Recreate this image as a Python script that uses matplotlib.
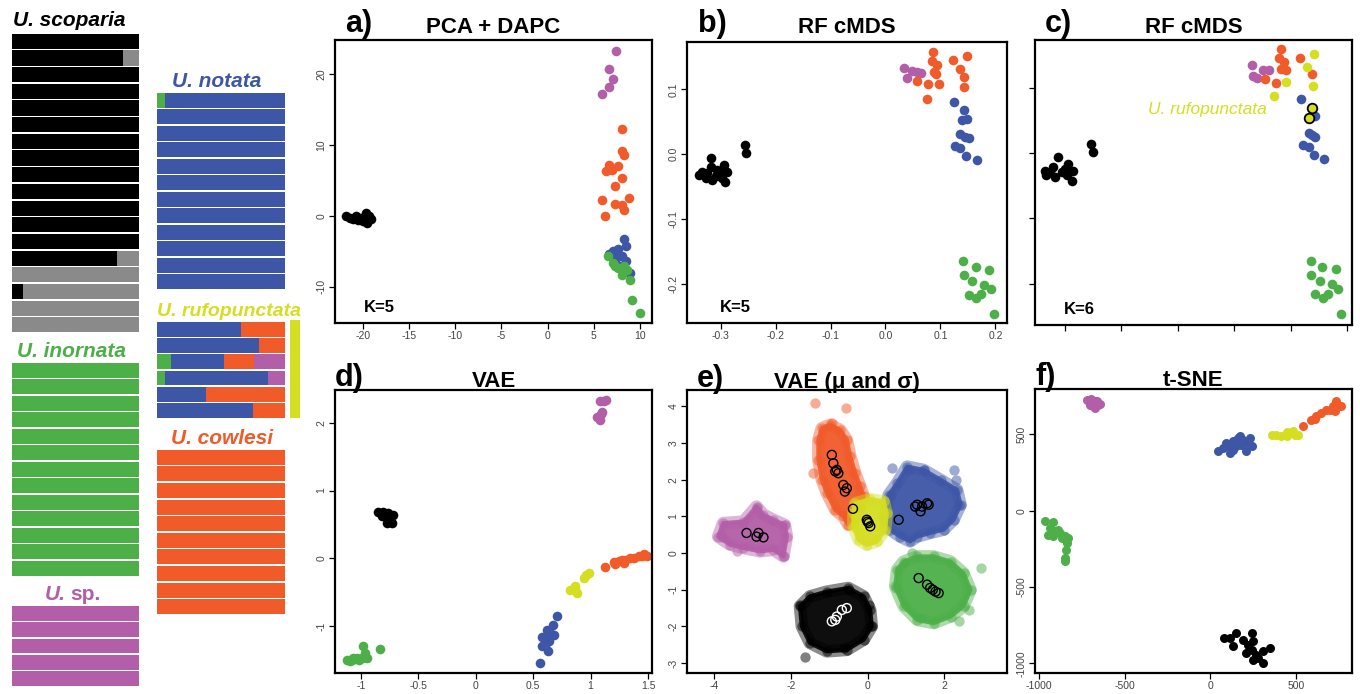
import matplotlib
matplotlib.use("Agg")
import matplotlib.pyplot as plt

plt.rcParams['font.family'] = ['Liberation Sans', 'DejaVu Sans']
plt.rcParams['axes.unicode_minus'] = False  # R style hyphen minus

# === colours ===
BLACK = '#000000'
GRAY = '#8a8a8a'
BLUE = '#3d56a6'
GREEN = '#4caf48'
ORANGE = '#f15a29'
PINK = '#b35ea8'
YELLOW = '#d5de21'

# === admixture bars (fractions per individual) ===
scoparia_black = [1, 0.875, 1, 1, 1, 1, 1, 1, 1, 1, 1, 1, 1, 0.83, 0, 0.086, 0, 0]
notata_green = [0.06, 0, 0, 0, 0, 0, 0, 0, 0, 0, 0, 0]
rufo_green = [0, 0, 0.107, 0.06, 0, 0]
rufo_blue = [0.66, 0.80, 0.415, 0.81, 0.386, 0.752]
rufo_orange = [0.34, 0.20, 0.235, 0, 0.614, 0.248]
rufo_pink = [0, 0, 0.243, 0.13, 0, 0]
n_inornata = 13
n_sp = 5
n_cowlesi = 10

# === a) PCA + DAPC ===
a_black_x = [-21.8, -21.1, -20.2, -19.6, -19.1, -19.5, -20.7, -21.4, -20.0, -19.3, -20.5, -19.8]
a_black_y = [-0.05, -0.5, -0.3, 0.4, -0.5, -1.0, 0.0, -0.3, -0.7, 0.0, -0.6, -0.2]
a_pink_x = [7.4, 6.7, 7.1, 6.7, 5.9]
a_pink_y = [23.3, 20.7, 19.3, 18.2, 17.2]
a_orange_x = [8.0, 8.0, 8.3, 6.7, 7.6, 6.3, 7.0, 8.0, 7.3, 5.9, 8.8, 7.3, 8.0, 8.3, 6.2]
a_orange_y = [12.2, 9.1, 8.6, 7.2, 7.0, 6.3, 6.5, 5.4, 4.2, 2.2, 2.5, 1.7, 1.5, 0.9, 0.0]
a_blue_x = [8.3, 8.5, 7.1, 7.6, 8.0, 7.4, 8.5, 6.7, 8.9, 7.8]
a_blue_y = [-3.3, -4.3, -5.0, -4.6, -5.7, -5.9, -6.4, -5.4, -8.0, -7.1]
a_green_x = [6.5, 7.1, 7.6, 8.3, 8.6, 8.9, 9.1, 10.0, 8.1, 7.3]
a_green_y = [-5.6, -6.6, -7.3, -7.1, -7.6, -9.0, -11.8, -13.7, -8.3, -7.1]

# === b) RF cMDS, K=5 ===
b_black_x = [-0.333, -0.318, -0.318, -0.294, -0.288, -0.291, -0.327, -0.339, -0.309, -0.300,
             -0.324, -0.306, -0.315, -0.297, -0.256, -0.253]
b_black_y = [-0.027, -0.019, -0.006, -0.016, -0.028, -0.042, -0.037, -0.032, -0.034, -0.029,
             -0.029, -0.024, -0.040, -0.036, 0.014, 0.002]
b_pink_x = [0.033, 0.039, 0.058, 0.065, 0.048]
b_pink_y = [0.133, 0.117, 0.127, 0.126, 0.128]
b_orange_x = [0.087, 0.084, 0.094, 0.088, 0.058, 0.078, 0.097, 0.075, 0.122, 0.148, 0.136,
              0.143, 0.143, 0.091]
b_orange_y = [0.157, 0.144, 0.137, 0.127, 0.113, 0.108, 0.108, 0.085, 0.145, 0.151, 0.131,
              0.119, 0.103, 0.124]
b_blue_x = [0.124, 0.142, 0.139, 0.148, 0.136, 0.145, 0.152, 0.127, 0.136, 0.147, 0.167]
b_blue_y = [0.081, 0.068, 0.053, 0.055, 0.031, 0.027, 0.025, 0.013, 0.010, -0.003, -0.009]
b_green_x = [0.141, 0.142, 0.164, 0.158, 0.188, 0.179, 0.192, 0.151, 0.164, 0.173, 0.198]
b_green_y = [-0.164, -0.186, -0.174, -0.196, -0.178, -0.201, -0.208, -0.217, -0.221, -0.216, -0.246]

# === c) RF cMDS, K=6 ===
c_black_x = [-0.327, -0.312, -0.333, -0.318, -0.294, -0.285, -0.288, -0.306, -0.300, -0.321,
             -0.336, -0.297, -0.254, -0.250]
c_black_y = [-0.029, -0.006, -0.034, -0.037, -0.016, -0.027, -0.042, -0.029, -0.024, -0.022,
             -0.027, -0.034, 0.014, 0.002]
c_pink_x = [0.031, 0.033, 0.052, 0.061, 0.040]
c_pink_y = [0.134, 0.118, 0.127, 0.127, 0.115]
c_orange_x = [0.083, 0.079, 0.088, 0.092, 0.083, 0.055, 0.075, 0.117, 0.138]
c_orange_y = [0.159, 0.145, 0.139, 0.127, 0.129, 0.113, 0.107, 0.146, 0.121]
c_yellow_x = [0.142, 0.130, 0.139, 0.092, 0.071]
c_yellow_y = [0.152, 0.132, 0.103, 0.108, 0.087]
c_yellow_ring_x = [0.138, 0.132]
c_yellow_ring_y = [0.069, 0.054]
c_blue_x = [0.119, 0.144, 0.132, 0.144, 0.123, 0.132, 0.141, 0.159, 0.138]
c_blue_y = [0.082, 0.057, 0.030, 0.025, 0.013, 0.010, -0.003, -0.009, 0.027]
c_green_x = [0.136, 0.137, 0.156, 0.153, 0.181, 0.173, 0.185, 0.144, 0.157, 0.167, 0.189]
c_green_y = [-0.165, -0.186, -0.174, -0.196, -0.177, -0.201, -0.208, -0.216, -0.221, -0.216, -0.246]

# === d) VAE ===
d_pink_x = [1.084, 1.119, 1.10, 1.08, 1.06, 1.09, 1.13]
d_pink_y = [2.32, 2.32, 2.16, 2.04, 2.08, 2.13, 2.33]
d_black_x = [-0.849, -0.805, -0.762, -0.718, -0.747, -0.776, -0.733, -0.82, -0.791, -0.77]
d_black_y = [0.691, 0.691, 0.667, 0.642, 0.569, 0.529, 0.520, 0.618, 0.642, 0.593]
d_orange_x = [1.128, 1.20, 1.244, 1.273, 1.302, 1.346, 1.375, 1.419, 1.462, 1.49, 1.448, 1.288, 1.215]
d_orange_y = [-0.132, -0.059, -0.044, -0.029, -0.020, 0.005, 0.005, 0.039, 0.069, 0.039, 0.03, -0.06, -0.08]
d_yellow_x = [0.962, 0.99, 0.94, 0.823, 0.866, 0.881, 0.861]
d_yellow_y = [-0.24, -0.216, -0.29, -0.471, -0.436, -0.51, -0.41]
d_blue_x = [0.706, 0.669, 0.648, 0.677, 0.576, 0.62, 0.605, 0.576, 0.625, 0.561, 0.634, 0.62]
d_blue_y = [-0.853, -0.975, -1.10, -1.12, -1.15, -1.196, -1.294, -1.294, -1.368, -1.539, -1.22, -1.05]
d_green_x = [-1.125, -1.081, -1.038, -0.994, -0.965, -0.98, -0.95, -0.834, -1.02, -1.07, -1.096]
d_green_y = [-1.50, -1.49, -1.466, -1.466, -1.39, -1.29, -1.466, -1.333, -1.49, -1.466, -1.515]

# === e) VAE (mu and sigma): cloud outlines, stray samples and means ===
e_orange_x = [-0.97, -0.71, -0.54, -0.45, -0.32, -0.19, -0.10, -0.19, -0.37, -0.50, -0.63, -0.84,
              -1.06, -1.19, -1.28, -1.28, -1.19]
e_orange_y = [3.5, 3.36, 3.09, 2.64, 2.18, 1.82, 1.55, 1.27, 0.91, 0.77, 1.0, 1.18, 1.64, 2.0,
              2.55, 3.09, 3.41]
e_orange_out_x = [-1.36, -0.55, -1.42, -0.92]
e_orange_out_y = [4.09, 3.95, 2.18, 3.55]
e_orange_mu_x = [-0.93, -0.89, -0.84, -0.76, -0.63, -0.54, -0.59, -0.38, -0.80]
e_orange_mu_y = [2.68, 2.45, 2.23, 2.18, 1.86, 1.77, 1.68, 1.21, 2.27]

e_yellow_x = [-0.32, 0.07, 0.42, 0.50, 0.46, 0.24, -0.02, -0.23, -0.37, -0.37]
e_yellow_y = [1.36, 1.47, 1.41, 1.09, 0.64, 0.32, 0.23, 0.36, 0.73, 1.09]
e_yellow_mu_x = [-0.02, 0.03, 0.07, 0.0]
e_yellow_mu_y = [0.91, 0.82, 0.73, 0.86]

e_blue_x = [1.03, 1.46, 1.90, 2.33, 2.42, 2.24, 1.98, 1.63, 1.29, 1.11, 0.85, 0.59, 0.46, 0.50,
            0.55, 0.77]
e_blue_y = [2.36, 2.27, 2.0, 1.73, 1.32, 0.91, 0.64, 0.55, 0.45, 0.32, 0.45, 0.64, 0.91, 1.27,
            1.59, 1.91]
e_blue_out_x = [0.64, 1.08, 1.47, 2.25, 2.30, 0.60, 2.38]
e_blue_out_y = [2.32, 2.27, 2.27, 2.27, 2.0, 1.55, 1.32]
e_blue_mu_x = [0.81, 1.29, 1.42, 1.55, 1.38, 1.24, 1.59]
e_blue_mu_y = [0.91, 1.32, 1.27, 1.36, 1.14, 1.27, 1.32]

e_pink_x = [-2.89, -3.23, -3.76, -3.89, -3.58, -3.23, -2.8, -2.45, -2.19, -2.10, -2.15, -2.45, -2.71]
e_pink_y = [1.27, 0.86, 0.82, 0.45, 0.23, 0.14, 0.05, 0.09, -0.09, 0.45, 0.77, 0.91, 1.05]
e_pink_out_x = [-2.88, -3.79, -2.18, -3.40, -2.18]
e_pink_out_y = [1.23, 0.45, 0.77, 0.05, -0.09]
e_pink_mu_x = [-3.15, -2.89, -2.71, -2.84]
e_pink_mu_y = [0.55, 0.45, 0.43, 0.55]

e_green_x = [1.29, 1.72, 2.16, 2.50, 2.68, 2.50, 2.16, 1.72, 1.29, 0.94, 0.72, 0.77, 0.94]
e_green_y = [-0.09, -0.09, -0.23, -0.55, -1.0, -1.45, -1.73, -1.91, -1.82, -1.45, -0.91, -0.45, -0.23]
e_green_out_x = [1.17, 2.95, 0.73, 1.38, 2.38, 2.64]
e_green_out_y = [0.0, -0.41, -0.95, -1.77, -1.86, -1.55]
e_green_mu_x = [1.33, 1.55, 1.63, 1.77, 1.85, 1.70]
e_green_mu_y = [-0.68, -0.86, -0.95, -1.05, -1.09, -1.0]

e_black_x = [-1.50, -1.06, -0.50, -0.10, 0.07, 0.11, -0.10, -0.54, -1.06, -1.50, -1.71, -1.76]
e_black_y = [-1.18, -1.05, -0.95, -1.18, -1.55, -2.0, -2.36, -2.64, -2.68, -2.45, -2.0, -1.45]
e_black_out_x = [-1.62, -1.75, -0.49, 0.03, 0.08, -0.62]
e_black_out_y = [-2.84, -1.41, -1.0, -1.41, -2.0, -2.59]
e_black_mu_x = [-0.93, -0.80, -0.67, -0.54, -0.84]
e_black_mu_y = [-1.86, -1.73, -1.55, -1.50, -1.82]

# === f) t-SNE ===
f_pink_x = [-720, -695, -675, -656, -675, -704, -665, -685, -646, -700]
f_pink_y = [727, 731, 716, 694, 672, 694, 716, 683, 700, 716]
f_green_x = [-967, -922, -938, -948, -909, -880, -850, -830, -840, -844, -850, -850, -890, -918, -870]
f_green_y = [-70, -76, -114, -157, -135, -146, -168, -179, -212, -255, -310, -332, -124, -168, -179]
f_blue_x = [45, 74, 113, 93, 132, 160, 191, 230, 240, 210, 152, 132, 181, 220, 109, 171]
f_blue_y = [393, 410, 378, 443, 454, 476, 465, 476, 421, 389, 421, 400, 432, 443, 421, 487]
f_yellow_x = [362, 385, 415, 447, 483, 512, 493, 447]
f_yellow_y = [493, 498, 487, 513, 520, 498, 498, 487]
f_orange_x = [541, 590, 619, 648, 677, 716, 735, 765, 726, 697, 609]
f_orange_y = [557, 596, 618, 640, 661, 683, 716, 683, 651, 661, 600]
f_black_x = [78, 113, 152, 132, 191, 240, 250, 220, 240, 269, 307, 346, 250, 307, 210, 279]
f_black_y = [-834, -834, -801, -888, -845, -801, -856, -877, -910, -943, -921, -899, -976, -998, -932, -965]


W, H = 1360, 694
fig = plt.figure(figsize=(W / 100, H / 100), dpi=100)


def px_axes(l, t, r, b):
    return fig.add_axes([l / W, 1 - b / H, (r - l) / W, (b - t) / H])


# === left: admixture barplots, drawn in pixel space ===
bx = fig.add_axes([0, 0, 300 / W, 1])
bx.set_xlim(0, 300)
bx.set_ylim(H, 0)
bx.axis('off')


def bar_block(left, width, top, pitch, rows):
    # rows: list of [(fraction, colour), ...]
    for i, segs in enumerate(rows):
        y = top + i * pitch + pitch / 2
        start = left
        for frac, col in segs:
            if frac <= 0:
                continue
            bx.barh(y, frac * width, left=start, height=pitch - 1.6, color=col, linewidth=0)
            start += frac * width


bar_block(12, 127, 33, 16.67, [[(b, BLACK), (1 - b, GRAY)] for b in scoparia_black])
bar_block(157, 128, 92, 16.5, [[(g, GREEN), (1 - g, BLUE)] for g in notata_green])
bar_block(157, 128, 321, 16.3, [[(g, GREEN), (bl, BLUE), (o, ORANGE), (p, PINK)]
                                for g, bl, o, p in zip(rufo_green, rufo_blue, rufo_orange, rufo_pink)])
bar_block(12, 127, 362, 16.5, [[(1, GREEN)]] * n_inornata)
bar_block(12, 127, 605, 16.4, [[(1, PINK)]] * n_sp)
bar_block(157, 128, 449, 16.6, [[(1, ORANGE)]] * n_cowlesi)
bx.add_patch(plt.Rectangle((290, 320), 13, 98, color=YELLOW, linewidth=0))

lab = dict(fontsize=15, fontweight='bold', fontstyle='italic', va='baseline')
bx.text(13, 26, 'U. scoparia', color=BLACK, **lab)
bx.text(172, 87, 'U. notata', color=BLUE, **lab)
bx.text(157, 316, 'U. rufopunctata', color=YELLOW, fontsize=14, fontweight='bold',
        fontstyle='italic', va='baseline')
bx.text(17, 357, 'U. inornata', color=GREEN, **lab)
bx.text(171, 444, 'U. cowlesi', color=ORANGE, **lab)
bx.text(45, 600, 'U.', color=PINK, **lab)
bx.text(70, 600, 'sp.', color=PINK, fontsize=15, fontweight='bold', va='baseline')


# === scatter panels ===
def style(ax, xlim, ylim, xticks, yticks, labels=True):
    ax.set_xlim(*xlim)
    ax.set_ylim(*ylim)
    ax.set_xticks(xticks)
    ax.set_yticks(yticks)
    for s in ax.spines.values():
        s.set_linewidth(1.6)
    ax.tick_params(length=4, width=0.9, labelsize=7.5, colors='black', labelcolor='#444444', pad=2)
    for t in ax.get_yticklabels():
        t.set_rotation(90)
        t.set_va('center')
    if not labels:
        ax.set_xticklabels([])
        ax.set_yticklabels([])


def title(ax_l, ax_r, letter_x, base_y, letter, name):
    fig.text(letter_x / W, 1 - base_y / H, letter, fontsize=22, fontweight='bold', va='baseline')
    fig.text((ax_l + ax_r) / 2 / W, 1 - (base_y + 1) / H, name, fontsize=16, fontweight='bold',
             ha='center', va='baseline')


S = 48

ax = px_axes(335, 40, 652, 323)
for xs, ys, c in [(a_black_x, a_black_y, BLACK), (a_pink_x, a_pink_y, PINK),
                  (a_orange_x, a_orange_y, ORANGE), (a_blue_x, a_blue_y, BLUE),
                  (a_green_x, a_green_y, GREEN)]:
    ax.scatter(xs, ys, s=S, color=c, linewidths=0)
style(ax, (-23.0, 11.3), (-15.1, 24.8), [-20, -15, -10, -5, 0, 5, 10], [-10, 0, 10, 20])
ax.text(0.14, 0.04, 'K=5', transform=ax.transAxes, fontsize=12, fontweight='bold', ha='center')
title(335, 652, 345, 32, 'a)', 'PCA + DAPC')

ax = px_axes(687, 42, 1007, 323)
for xs, ys, c in [(b_black_x, b_black_y, BLACK), (b_pink_x, b_pink_y, PINK),
                  (b_orange_x, b_orange_y, ORANGE), (b_blue_x, b_blue_y, BLUE),
                  (b_green_x, b_green_y, GREEN)]:
    ax.scatter(xs, ys, s=S, color=c, linewidths=0)
style(ax, (-0.361, 0.221), (-0.26, 0.173), [-0.3, -0.2, -0.1, 0.0, 0.1, 0.2], [-0.2, -0.1, 0.0, 0.1])
ax.set_xticklabels(['-0.3', '-0.2', '-0.1', '0.0', '0.1', '0.2'])
ax.set_yticklabels(['-0.2', '-0.1', '0.0', '0.1'])
for t in ax.get_yticklabels():
    t.set_rotation(90)
    t.set_va('center')
ax.text(0.15, 0.04, 'K=5', transform=ax.transAxes, fontsize=12, fontweight='bold', ha='center')
title(687, 1007, 698, 32, 'b)', 'RF cMDS')

ax = px_axes(1035, 40, 1352, 325)
for xs, ys, c in [(c_black_x, c_black_y, BLACK), (c_pink_x, c_pink_y, PINK),
                  (c_orange_x, c_orange_y, ORANGE), (c_yellow_x, c_yellow_y, YELLOW),
                  (c_blue_x, c_blue_y, BLUE), (c_green_x, c_green_y, GREEN)]:
    ax.scatter(xs, ys, s=S, color=c, linewidths=0)
ax.scatter(c_yellow_ring_x, c_yellow_ring_y, s=S, color=YELLOW, edgecolors='black', linewidths=1.3,
           zorder=3)
style(ax, (-0.353, 0.209), (-0.263, 0.173), [-0.3, -0.2, -0.1, 0.0, 0.1, 0.2],
      [-0.2, -0.1, 0.0, 0.1], labels=False)
ax.text(0.058, 0.066, 'U. rufopunctata', color=YELLOW, fontsize=12.5, fontstyle='italic',
        ha='right', va='center')
ax.text(0.14, 0.04, 'K=6', transform=ax.transAxes, fontsize=12, fontweight='bold', ha='center')
title(1035, 1352, 1045, 32, 'c)', 'RF cMDS')

ax = px_axes(335, 390, 652, 673)
for xs, ys, c in [(d_pink_x, d_pink_y, PINK), (d_black_x, d_black_y, BLACK),
                  (d_orange_x, d_orange_y, ORANGE), (d_yellow_x, d_yellow_y, YELLOW),
                  (d_blue_x, d_blue_y, BLUE), (d_green_x, d_green_y, GREEN)]:
    ax.scatter(xs, ys, s=S, color=c, linewidths=0)
style(ax, (-1.227, 1.535), (-1.686, 2.48), [-1, -0.5, 0, 0.5, 1, 1.5], [-1, 0, 1, 2])
ax.set_xticklabels(['-1', '-0.5', '0', '0.5', '1', '1.5'])
title(335, 652, 335, 386, 'd)', 'VAE')

ax = px_axes(687, 390, 1007, 673)
clouds = [
    (e_pink_x, e_pink_y, e_pink_out_x, e_pink_out_y, e_pink_mu_x, e_pink_mu_y, PINK, 'black'),
    (e_black_x, e_black_y, e_black_out_x, e_black_out_y, e_black_mu_x, e_black_mu_y, BLACK, 'white'),
    (e_green_x, e_green_y, e_green_out_x, e_green_out_y, e_green_mu_x, e_green_mu_y, GREEN, 'black'),
    (e_blue_x, e_blue_y, e_blue_out_x, e_blue_out_y, e_blue_mu_x, e_blue_mu_y, BLUE, 'black'),
    (e_orange_x, e_orange_y, e_orange_out_x, e_orange_out_y, e_orange_mu_x, e_orange_mu_y, ORANGE, 'black'),
    (e_yellow_x, e_yellow_y, [], [], e_yellow_mu_x, e_yellow_mu_y, YELLOW, 'black'),
]
for ox, oy, sx, sy, mx, my, c, ring in clouds:
    # outer soft halo, then solid core
    ax.fill(ox, oy, facecolor=c, edgecolor=c, alpha=0.45, linewidth=9, joinstyle='round')
    ax.fill(ox, oy, facecolor=c, edgecolor=c, alpha=0.9, linewidth=3, joinstyle='round')
    ax.scatter(ox + sx, oy + sy, s=55, color=c, alpha=0.5, linewidths=0)
for ox, oy, sx, sy, mx, my, c, ring in clouds:
    ax.scatter(mx, my, s=42, facecolors='none', edgecolors=ring, linewidths=1.0, zorder=4)
style(ax, (-4.70, 3.63), (-3.27, 4.45), [-4, -2, 0, 2], [-3, -2, -1, 0, 1, 2, 3, 4])
title(687, 1007, 697, 387, 'e)', 'VAE (μ and σ)')

ax = px_axes(1035, 389, 1352, 673)
for xs, ys, c in [(f_pink_x, f_pink_y, PINK), (f_green_x, f_green_y, GREEN),
                  (f_blue_x, f_blue_y, BLUE), (f_yellow_x, f_yellow_y, YELLOW),
                  (f_orange_x, f_orange_y, ORANGE), (f_black_x, f_black_y, BLACK)]:
    ax.scatter(xs, ys, s=42, color=c, linewidths=0)
style(ax, (-1025, 827), (-1063, 797), [-1000, -500, 0, 500], [-1000, -500, 0, 500])
title(1035, 1352, 1035, 385, 'f)', 't-SNE')

fig.savefig('out.png', dpi=100)
